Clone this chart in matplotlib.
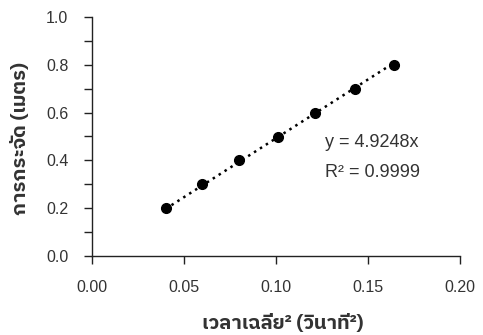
import matplotlib
matplotlib.use("Agg")
import matplotlib.pyplot as plt
import numpy as np
from matplotlib.ticker import MultipleLocator

time_sq = [0.040, 0.060, 0.080, 0.101, 0.121, 0.143, 0.164]
distance = [0.2, 0.3, 0.4, 0.5, 0.6, 0.7, 0.8]
slope = 4.9248
r2 = 0.9999
xlabel = "เวลาเฉลี่ย² (วินาที²)"
ylabel = "การกระจัด (เมตร)"

thai = ['IBM Plex Sans Thai', 'Noto Sans Thai', 'Liberation Sans', 'DejaVu Sans']
plt.rcParams['font.family'] = ['Liberation Sans', 'DejaVu Sans']

fig = plt.figure(figsize=(4.83, 3.35), dpi=100)
ax = fig.add_axes([92/483, 1-256/335, (460-92)/483, (256-17)/335])

xs = np.array([min(time_sq), max(time_sq)])
ax.plot(xs, slope*xs, color='black', lw=1.8, linestyle=(0, (1, 1.8)), zorder=2)
ax.plot(time_sq, distance, 'o', color='black', ms=7, zorder=3)

ax.set_xlim(0, 0.20)
ax.set_ylim(0, 1.0)
ax.xaxis.set_major_locator(MultipleLocator(0.05))
ax.yaxis.set_major_locator(MultipleLocator(0.2))
ax.yaxis.set_minor_locator(MultipleLocator(0.1))
ax.xaxis.set_major_formatter(plt.FuncFormatter(lambda v, p: f"{v:.2f}"))
ax.yaxis.set_major_formatter(plt.FuncFormatter(lambda v, p: f"{v:.1f}"))
for s in ['top', 'right']:
    ax.spines[s].set_visible(False)
for s in ['left', 'bottom']:
    ax.spines[s].set_linewidth(1.0)
    ax.spines[s].set_color('#222222')
ax.tick_params(axis='x', which='major', length=6, width=1, pad=11, labelsize=11.5, colors='#222222', labelcolor='#333333')
ax.tick_params(axis='y', which='major', length=6, width=1, pad=11, labelsize=11.5, colors='#222222', labelcolor='#333333')
ax.tick_params(axis='y', which='minor', length=6, width=1, colors='#222222')
ax.tick_params(axis='x', which='minor', length=0)

ax.text(0.1265, 0.475, f"y = {slope}x", fontsize=13, va='center', ha='left', color='#333333')
ax.text(0.1265, 0.35, f"R² = {r2}", fontsize=13, va='center', ha='left', color='#333333')

fig.text(283/483, 1-324/335, xlabel, family=thai, fontsize=14.5, fontweight='bold', ha='center', va='center', color='#333333')
fig.text(21/483, 1-139/335, ylabel, family=thai, fontsize=14.5, fontweight='bold', ha='center', va='center', rotation=90, color='#333333')

fig.savefig("out.png", dpi=100)
